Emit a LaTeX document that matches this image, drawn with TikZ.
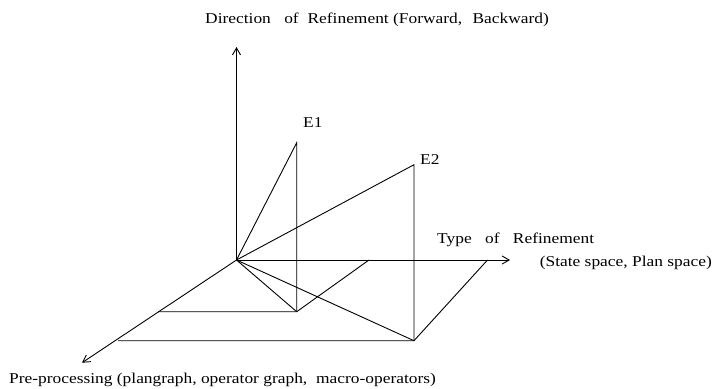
\documentclass[tikz,border=0pt]{standalone}
\usepackage{fontspec}
\setmainfont[FakeStretch=1.16]{Liberation Serif}
\usetikzlibrary{arrows.meta}
\begin{document}
\begin{tikzpicture}[x=1pt,y=-1pt,
  ln/.style={line width=0.9pt,black},
  axis/.style={ln,-{Straight Barb[length=7pt,width=8pt]}},
  lbl/.style={inner sep=0pt,font=\fontsize{15}{18}\selectfont}]
\useasboundingbox (0,0) rectangle (714,388);
% points
\coordinate (O) at (236.5,260);
\coordinate (Vt) at (236.5,47);
\coordinate (Ht) at (510,260);
\coordinate (Dt) at (82,362.7);
\coordinate (E1t) at (296.7,142.7);
\coordinate (E1b) at (296.7,311.7);
\coordinate (E2t) at (414,164.7);
\coordinate (E2b) at (414,340.7);
\coordinate (H1) at (369,260);
\coordinate (H2) at (487.5,260);
\coordinate (D1) at (158,311.7);
\coordinate (D2) at (118,340.7);
% axes
\draw[axis] (O) -- (Vt);
\draw[axis] (O) -- (Ht);
\draw[axis] (O) -- (Dt);
% E1
\draw[ln] (O) -- (E1t) -- (E1b);
\draw[ln] (O) -- (E1b);
\draw[ln] (D1) -- (E1b) -- (H1);
% E2
\draw[ln] (O) -- (E2t) -- (E2b);
\draw[ln] (O) -- (E2b);
\draw[ln] (D2) -- (E2b) -- (H2);
% labels
\node[lbl,anchor=west] (e1) at (303,123) {E1};
\node[lbl,anchor=west] (e2) at (420,159.5) {E2};
\node[lbl,anchor=west] (ttl) at (205,20) {Direction\hspace{0.6em} of\hspace{0.3em} Refinement (Forward,\hspace{0.4em} Backward)};
\node[lbl,anchor=west] (typ) at (437,240) {Type\hspace{0.6em} of\hspace{0.6em} Refinement};
\node[lbl,anchor=east] (sps) at (712,263) {(State space, Plan space)};
\node[lbl,anchor=west] (pre) at (9,380) {Pre-processing (plangraph, operator graph,\hspace{0.3em} macro-operators)};
\end{tikzpicture}
\end{document}
